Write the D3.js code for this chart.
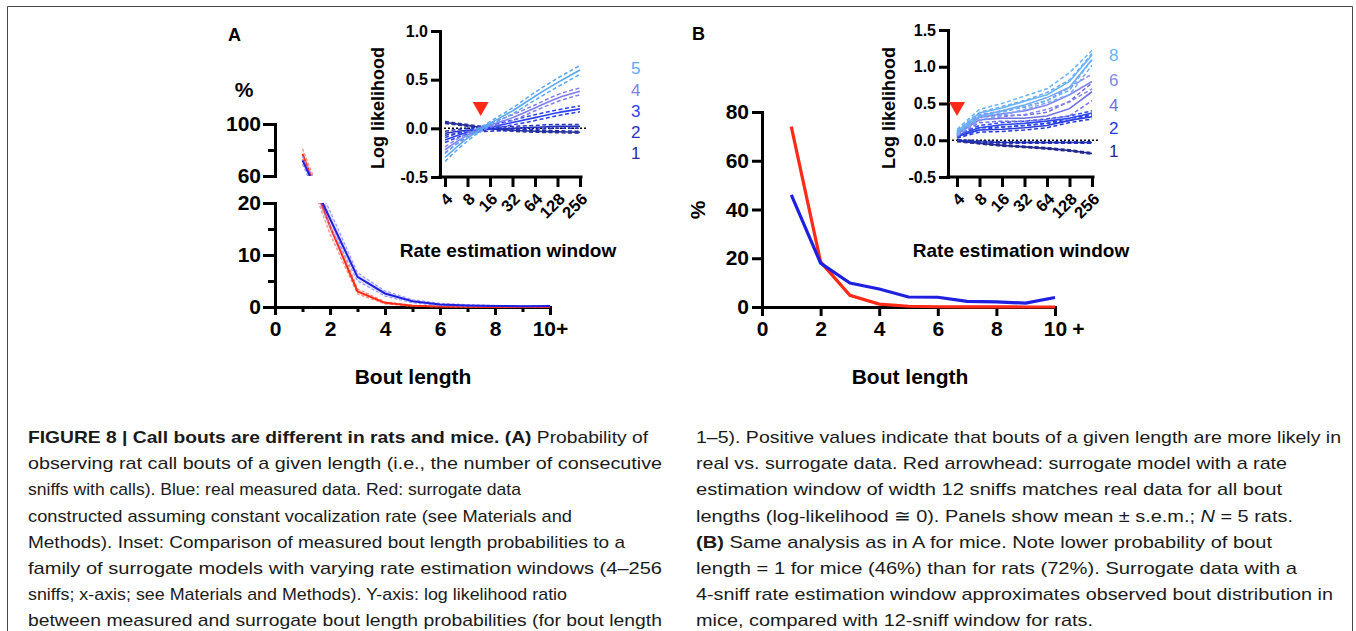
<!DOCTYPE html>
<html>
<head>
<meta charset="utf-8">
<script src="https://cdn.jsdelivr.net/npm/d3@7"></script>
<style>
  body { margin: 0; background: #fff; }
  svg { display: block; }
</style>
</head>
<body>
<svg id="fig" width="1356" height="631"></svg>
<script>
// ---- data: bout length distributions (% of bouts), 10 = "10+" ----
const boutLength = [1, 2, 3, 4, 5, 6, 7, 8, 9, 10];
const ratReal = [72, 17, 5.8, 2.6, 1.1, 0.5, 0.3, 0.2, 0.15, 0.2];
const ratRealSem = [3, 1.5, 0.8, 0.5, 0.3, 0.2, 0.15, 0.1, 0.1, 0.1];
const ratSurrogate = [77, 15.5, 3.0, 0.8, 0.25, 0.1, 0.05, 0.02, 0.01, 0.01];
const ratSurrogateSem = [4, 1.5, 0.5, 0.2, 0.1, 0.05, 0.03, 0.02, 0.01, 0.01];
const mouseReal = [46, 18, 9.8, 7.4, 4.1, 4.0, 2.3, 2.1, 1.6, 3.9];
const mouseSurrogate = [74, 18.5, 4.8, 1.2, 0.3, 0.1, 0.05, 0.02, 0.01, 0.01];
const boutTicks = [0, 2, 4, 6, 8, 10];
const boutTickLabels = ["0", "2", "4", "6", "8", "10+"];

// ---- data: inset log likelihood vs rate estimation window ----
const windows = [4, 8, 16, 32, 64, 128, 256];
const ratLL = [
  [0.06, 0.03, 0.0, -0.02, -0.03, -0.035, -0.04],
  [-0.05, -0.02, -0.01, 0.0, 0.01, 0.02, 0.02],
  [-0.12, -0.04, 0.01, 0.06, 0.11, 0.16, 0.2],
  [-0.22, -0.07, 0.03, 0.11, 0.21, 0.31, 0.38],
  [-0.3, -0.1, 0.05, 0.18, 0.33, 0.47, 0.6]
];
const ratLLSem = [
  [0.01, 0.01, 0.01, 0.01, 0.01, 0.01, 0.01],
  [0.02, 0.02, 0.02, 0.02, 0.02, 0.02, 0.02],
  [0.025, 0.02, 0.02, 0.025, 0.03, 0.03, 0.03],
  [0.03, 0.02, 0.02, 0.03, 0.03, 0.035, 0.035],
  [0.04, 0.03, 0.02, 0.03, 0.04, 0.045, 0.045]
];
const ratLabels = ["1", "2", "3", "4", "5"];
const ratColors = ["#25309a", "#2430c0", "#2a3ff0", "#7f7ff0", "#5aa8f5"];

const mouseLL = [
  [-0.01, -0.04, -0.07, -0.09, -0.11, -0.14, -0.18],
  [0.0, -0.02, -0.03, -0.03, -0.03, -0.03, -0.03],
  [0.05, 0.14, 0.15, 0.17, 0.2, 0.27, 0.32],
  [0.06, 0.17, 0.21, 0.23, 0.26, 0.3, 0.37],
  [0.08, 0.28, 0.3, 0.3, 0.33, 0.43, 0.66],
  [0.09, 0.31, 0.36, 0.4, 0.48, 0.62, 0.8],
  [0.1, 0.33, 0.4, 0.48, 0.58, 0.72, 1.1],
  [0.12, 0.37, 0.44, 0.53, 0.62, 0.8, 1.16]
];
const mouseLLSem = [
  [0.01, 0.01, 0.01, 0.01, 0.01, 0.01, 0.01],
  [0.01, 0.01, 0.01, 0.01, 0.01, 0.01, 0.01],
  [0.02, 0.03, 0.03, 0.03, 0.03, 0.03, 0.03],
  [0.02, 0.03, 0.03, 0.03, 0.03, 0.03, 0.03],
  [0.03, 0.04, 0.04, 0.04, 0.05, 0.1, 0.12],
  [0.03, 0.04, 0.04, 0.05, 0.06, 0.1, 0.1],
  [0.03, 0.05, 0.06, 0.06, 0.07, 0.1, 0.08],
  [0.03, 0.05, 0.06, 0.07, 0.08, 0.12, 0.06]
];
const mouseLabels = ["1", "", "2", "", "4", "6", "", "8"];
const mouseColors = ["#23298f", "#2530b5", "#2538d8", "#2a48ee", "#7070e6", "#8585f0", "#72aaf5", "#66b5fa"];

// ---- caption text, one entry per printed line ----
const captionLeft = [
  [["FIGURE 8 | Call bouts are different in rats and mice. (A)", "b"], [" Probability of", ""]],
  [["observing rat call bouts of a given length (i.e., the number of consecutive", ""]],
  [["sniffs with calls). Blue: real measured data. Red: surrogate data", ""]],
  [["constructed assuming constant vocalization rate (see Materials and", ""]],
  [["Methods). Inset: Comparison of measured bout length probabilities to a", ""]],
  [["family of surrogate models with varying rate estimation windows (4\u2013256", ""]],
  [["sniffs; x-axis; see Materials and Methods). Y-axis: log likelihood ratio", ""]],
  [["between measured and surrogate bout length probabilities (for bout length", ""]]
];
const captionLeftEnds = [648, 662, 521, 572, 625, 662, 567, 662];
const captionRight = [
  [["1\u20135). Positive values indicate that bouts of a given length are more likely in", ""]],
  [["real vs. surrogate data. Red arrowhead: surrogate model with a rate", ""]],
  [["estimation window of width 12 sniffs matches real data for all bout", ""]],
  [["lengths (log-likelihood \u2245 0). Panels show mean \u00b1 s.e.m.; ", ""], ["N", "i"], [" = 5 rats.", ""]],
  [["(B)", "b"], [" Same analysis as in A for mice. Note lower probability of bout", ""]],
  [["length = 1 for mice (46%) than for rats (72%). Surrogate data with a", ""]],
  [["4-sniff rate estimation window approximates observed bout distribution in", ""]],
  [["mice, compared with 12-sniff window for rats.", ""]]
];
const captionRightEnds = [1341, 1287, 1282, 1293, 1272, 1297, 1333, 1093];

const FONT = "'Liberation Sans', Arial, sans-serif";
const BLUE = "#1f1fe0", RED = "#ff2a17";

const svg = d3.select("#fig");

// outer frame
svg.append("path")
  .attr("d", "M7.5,640V6.5H1352.5V640")
  .attr("fill", "none").attr("stroke", "#444").attr("stroke-width", 1);

function styleAxis(g, w, fs, bold = true) {
  g.select(".domain").attr("stroke", "#000").attr("stroke-width", w).attr("stroke-linecap", "square");
  g.selectAll(".tick line").attr("stroke", "#000").attr("stroke-width", w);
  g.selectAll(".tick text").attr("fill", "#000").attr("font-family", FONT)
    .attr("font-size", fs).attr("font-weight", bold ? "bold" : "normal");
}

function label(txt, x, y, size, opts = {}) {
  const t = svg.append("text").text(txt)
    .attr("font-family", FONT).attr("font-size", size)
    .attr("font-weight", opts.weight || "bold")
    .attr("fill", opts.fill || "#000")
    .attr("text-anchor", opts.anchor || "start");
  if (opts.rotate) t.attr("transform", `translate(${x},${y}) rotate(-90)`);
  else t.attr("x", x).attr("y", y);
  return t;
}

// ================= Panel A main =================
const xA = d3.scaleLinear().domain([0, 10]).range([275, 550]);
// broken axis: 0-20 lower segment, 20-60 hidden gap, 60-100 upper segment
const yA = d3.scaleLinear().domain([0, 20, 60, 100]).range([307, 203, 176, 124]);

svg.append("g").attr("transform", "translate(0,307)")
  .call(d3.axisBottom(xA).tickValues(boutTicks).tickSize(8).tickSizeOuter(0).tickPadding(6)
    .tickFormat((d, i) => boutTickLabels[i]))
  .call(g => styleAxis(g, 3, 21));
svg.append("g").attr("transform", "translate(0,307)")
  .call(d3.axisBottom(xA).tickValues([1, 3, 5, 7, 9]).tickSize(5).tickFormat(""))
  .call(g => { g.select(".domain").remove(); styleAxis(g, 3, 21); });

const yALow = d3.scaleLinear().domain([0, 20]).range([307, 203]);
const yAHigh = d3.scaleLinear().domain([60, 100]).range([176, 124]);
svg.append("g").attr("transform", "translate(275,0)")
  .call(d3.axisLeft(yALow).tickValues([0, 10, 20]).tickSize(12).tickSizeOuter(0).tickPadding(2))
  .call(g => styleAxis(g, 3, 21));
svg.append("g").attr("transform", "translate(275,0)")
  .call(d3.axisLeft(yALow).tickValues([5, 15]).tickSize(7).tickFormat(""))
  .call(g => { g.select(".domain").remove(); styleAxis(g, 3, 21); });
svg.append("g").attr("transform", "translate(275,0)")
  .call(d3.axisLeft(yAHigh).tickValues([60, 100]).tickSize(12).tickSizeOuter(0).tickPadding(2))
  .call(g => styleAxis(g, 3, 21));
svg.append("g").attr("transform", "translate(275,0)")
  .call(d3.axisLeft(yAHigh).tickValues([80]).tickSize(7).tickFormat(""))
  .call(g => { g.select(".domain").remove(); styleAxis(g, 3, 21); });

const clipA = svg.append("clipPath").attr("id", "clipA");
clipA.append("rect").attr("x", 270).attr("y", 110).attr("width", 300).attr("height", 66);
clipA.append("rect").attr("x", 270).attr("y", 203).attr("width", 300).attr("height", 110);

const gA = svg.append("g").attr("clip-path", "url(#clipA)");
function bandSeries(g, mean, sem, color, light, fill) {
  const lo = mean.map((m, i) => Math.max(0, m - sem[i]));
  const hi = mean.map((m, i) => m + sem[i]);
  g.append("path").datum(boutLength)
    .attr("fill", fill)
    .attr("d", d3.area().x(d => xA(d)).y0((d, i) => yA(lo[i])).y1((d, i) => yA(hi[i])));
  [lo, hi].forEach(arr => g.append("path").datum(arr)
    .attr("fill", "none").attr("stroke", light).attr("stroke-width", 1.2).attr("stroke-dasharray", "3,2")
    .attr("d", d3.line().x((d, i) => xA(boutLength[i])).y(d => yA(d))));
  g.append("path").datum(mean)
    .attr("fill", "none").attr("stroke", color).attr("stroke-width", 2)
    .attr("d", d3.line().x((d, i) => xA(boutLength[i])).y(d => yA(d)));
}
bandSeries(gA, ratSurrogate, ratSurrogateSem, RED, "#ff8a80", "rgba(255,120,110,0.15)");
bandSeries(gA, ratReal, ratRealSem, BLUE, "#9a9aff", "rgba(110,110,255,0.2)");

label("A", 228, 41, 18);
label("%", 244, 97, 21, { anchor: "middle" });
label("Bout length", 413, 384, 21, { anchor: "middle" });

// ================= Panel B main =================
const xB = d3.scaleLinear().domain([0, 10]).range([762, 1055]);
const yB = d3.scaleLinear().domain([0, 80]).range([307, 112]);

svg.append("g").attr("transform", "translate(0,307)")
  .call(d3.axisBottom(xB).tickValues(boutTicks).tickSize(9).tickSizeOuter(0).tickPadding(5)
    .tickFormat((d, i) => boutTickLabels[i].replace("+", "")))
  .call(g => styleAxis(g, 3, 21))
  .call(g => g.selectAll(".tick").filter(d => d === 10).append("text")
    .text("+").attr("x", 23).attr("y", 14).attr("dy", "0.71em")
    .attr("font-family", FONT).attr("font-size", 21).attr("font-weight", "bold").attr("fill", "#000"));
svg.append("g").attr("transform", "translate(762,0)")
  .call(d3.axisLeft(yB).tickValues([0, 20, 40, 60, 80]).tickSize(10).tickSizeOuter(0).tickPadding(3))
  .call(g => styleAxis(g, 3, 21));

[[mouseSurrogate, RED], [mouseReal, BLUE]].forEach(([vals, col]) => {
  svg.append("path").datum(vals)
    .attr("fill", "none").attr("stroke", col).attr("stroke-width", 3.2)
    .attr("d", d3.line().x((d, i) => xB(boutLength[i])).y(d => yB(d)));
});

label("B", 692, 40, 18);
label("%", 705, 210, 21, { anchor: "middle", rotate: true });
label("Bout length", 910, 384, 21, { anchor: "middle" });

// ================= Insets =================
function inset(cfg) {
  const { x, y, mean, sem, colors, labels, labelX, labelY, curve, yTicks, triX } = cfg;
  const yBot = y.range()[0];
  svg.append("g").attr("transform", `translate(0,${yBot})`)
    .call(d3.axisBottom(x).tickValues(windows).tickSize(10).tickSizeOuter(0).tickFormat(d => d))
    .call(g => {
      styleAxis(g, 3, 16.5);
      g.select(".domain").attr("d", `M${cfg.axisX},0H${x.range()[1] + 1}`);
      g.selectAll(".tick text").attr("y", 0).attr("dy", "0.35em")
        .attr("transform", "translate(4,19) rotate(-45)").attr("text-anchor", "end");
    });
  svg.append("g").attr("transform", `translate(${cfg.axisX},0)`)
    .call(d3.axisLeft(y).tickValues(yTicks).tickSize(9).tickSizeOuter(0).tickPadding(3)
      .tickFormat(d => d.toFixed(1)))
    .call(g => styleAxis(g, 3, 16));
  // zero reference line
  svg.append("line")
    .attr("x1", cfg.axisX).attr("x2", x.range()[1] + 6).attr("y1", y(0)).attr("y2", y(0))
    .attr("stroke", "#000").attr("stroke-width", 1.5).attr("stroke-dasharray", "2,2");
  const line = d3.line().curve(curve).x((d, i) => x(windows[i])).y(d => y(d));
  mean.forEach((m, k) => {
    const lo = m.map((v, i) => v - sem[k][i]);
    const hi = m.map((v, i) => v + sem[k][i]);
    [lo, hi].forEach(arr => svg.append("path").datum(arr)
      .attr("fill", "none").attr("stroke", colors[k]).attr("stroke-width", 1.5)
      .attr("stroke-dasharray", "4,2.5").attr("d", line));
    svg.append("path").datum(m)
      .attr("fill", "none").attr("stroke", colors[k]).attr("stroke-width", 1.6).attr("d", line);
  });
  labels.forEach((t, k) => {
    if (!t) return;
    label(t, labelX, labelY[k], 17, { weight: "normal", fill: colors[k] });
  });
  // red arrowhead marking the matching window
  const tx = x(triX);
  svg.append("path")
    .attr("d", `M${tx - 8},${102}L${tx + 8},${102}L${tx},${116}Z`)
    .attr("fill", RED);
  label("Log likelihood", cfg.titleYX, 108, 18, { anchor: "middle", rotate: true });
  label("Rate estimation window", cfg.titleXX, 257, 19, { anchor: "middle" });
}

inset({
  x: d3.scaleLog().base(2).domain([4, 256]).range([445, 580]),
  y: d3.scaleLinear().domain([-0.5, 1]).range([177, 31]),
  axisX: 440, mean: ratLL, sem: ratLLSem, colors: ratColors, labels: ratLabels,
  labelX: 631, labelY: [159, 138, 117, 96, 74], curve: d3.curveMonotoneX,
  yTicks: [-0.5, 0, 0.5, 1], triX: 12, titleYX: 384, titleXX: 508
});
inset({
  x: d3.scaleLog().base(2).domain([4, 256]).range([957, 1092]),
  y: d3.scaleLinear().domain([-0.5, 1.5]).range([177, 30]),
  axisX: 948, mean: mouseLL, sem: mouseLLSem, colors: mouseColors, labels: mouseLabels,
  labelX: 1109, labelY: [157, 0, 134, 0, 111, 86, 0, 61], curve: d3.curveLinear,
  yTicks: [-0.5, 0, 0.5, 1, 1.5], triX: 4, titleYX: 895, titleXX: 1021
});

// ================= Caption =================
function caption(lines, ends, x0) {
  lines.forEach((segs, i) => {
    const t = svg.append("text")
      .attr("x", x0).attr("y", 443 + i * 26.2)
      .attr("font-family", FONT).attr("font-size", 17).attr("fill", "#1a1a1a")
      .attr("textLength", ends[i] - x0).attr("lengthAdjust", "spacingAndGlyphs");
    segs.forEach(([s, st]) => {
      const ts = t.append("tspan").text(s);
      if (st === "b") ts.attr("font-weight", "bold");
      if (st === "i") ts.attr("font-style", "italic");
    });
  });
}
caption(captionLeft, captionLeftEnds, 28);
caption(captionRight, captionRightEnds, 696);
</script>
</body>
</html>
